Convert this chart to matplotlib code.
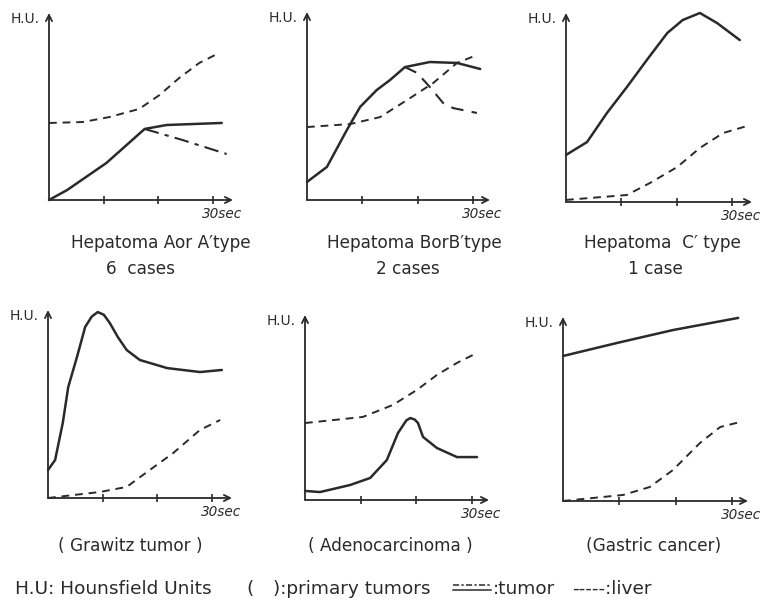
import matplotlib
matplotlib.use("Agg")
import matplotlib.pyplot as plt
from matplotlib.lines import Line2D

# ---------------- data (time in sec, H.U. in relative units 0-100) ----------------
# Panel 1: Hepatoma A or A' type
p1_liver_t = [0, 6.2, 11.1, 16.5, 20.2, 23.8, 27.5, 31.1]
p1_liver_v = [41.2, 41.7, 44.4, 48.7, 56.1, 65.2, 73.3, 78.6]
p1_tumor_t = [0, 3.3, 10.5, 17.5, 21.5, 31.6]
p1_tumor_v = [0, 5.3, 19.8, 38.0, 40.1, 41.2]
p1_tumor2_t = [17.5, 24.4, 32.5]
p1_tumor2_v = [38.0, 32.1, 24.6]

# Panel 2: Hepatoma B or B' type
p2_liver_t = [0, 7.8, 13.2, 18.1, 22.8, 27.1, 30.7]
p2_liver_v = [38.8, 40.4, 44.1, 53.2, 62.2, 72.9, 77.1]
p2_tumor_t = [0, 3.6, 7.2, 9.6, 12.6, 15.0, 17.7, 22.2, 27.1, 31.3]
p2_tumor_v = [9.6, 17.6, 37.2, 49.5, 58.5, 63.8, 70.7, 73.4, 72.9, 69.7]
p2_tumor2_t = [17.7, 19.9, 22.2, 24.6, 26.4, 30.7]
p2_tumor2_v = [70.7, 67.6, 60.1, 51.6, 48.9, 46.3]

# Panel 3: Hepatoma C' type
p3_tumor_t = [0, 3.8, 7.4, 11.0, 14.6, 18.3, 21.1, 24.2, 27.3, 31.4]
p3_tumor_v = [24.9, 31.7, 47.1, 60.8, 75.1, 89.4, 96.3, 100, 94.7, 85.7]
p3_liver_t = [0, 11.0, 15.2, 20.1, 24.2, 28.4, 32.7]
p3_liver_v = [1.1, 3.7, 10.1, 18.5, 28.6, 36.5, 40.2]

# Panel 4: Grawitz tumor
p4_tumor_t = [0, 1.3, 2.7, 3.7, 5.3, 6.8, 8.0, 9.1, 10.2, 11.3, 12.8, 14.4, 16.8, 21.8, 27.8, 31.8]
p4_tumor_v = [14.9, 20.2, 39.9, 59.0, 75.0, 91.0, 96.5, 98.9, 97.5, 93.1, 85.5, 78.7, 73.4, 69.1, 67.0, 68.1]
p4_liver_t = [0, 9.5, 14.4, 18.1, 22.9, 27.8, 31.5]
p4_liver_v = [0, 3.2, 5.9, 13.8, 23.9, 36.2, 41.5]

# Panel 5: Adenocarcinoma
p5_liver_t = [0, 10.4, 15.8, 20.1, 23.7, 27.3, 30.9]
p5_liver_v = [41.6, 44.9, 51.4, 59.5, 67.6, 74.1, 79.5]
p5_tumor_t = [0, 2.7, 8.1, 11.7, 14.7, 16.7, 18.2, 18.9, 19.7, 20.3, 21.2, 23.7, 27.3, 30.9]
p5_tumor_v = [4.9, 4.3, 8.1, 11.9, 21.6, 36.2, 43.0, 44.3, 43.5, 41.6, 34.1, 28.1, 23.2, 23.2]

# Panel 6: Gastric cancer
p6_tumor_t = [0, 9.6, 19.5, 31.1]
p6_tumor_v = [78.8, 85.9, 92.9, 99.5]
p6_liver_t = [0, 10.7, 15.4, 19.5, 24.3, 27.9, 31.4]
p6_liver_v = [0, 3.3, 7.6, 16.8, 31.5, 40.2, 42.9]

xticks = [10, 20, 30]
captions = [["Hepatoma Aor A\u2032type", "6  cases"],
            ["Hepatoma BorB\u2032type", "2 cases"],
            ["Hepatoma  C\u2032 type", "1 case"],
            ["( Grawitz tumor )"],
            ["( Adenocarcinoma )"],
            ["(Gastric cancer)"]]
legend_parts = ["H.U: Hounsfield Units", "(", "):primary tumors", ":tumor", "-----:liver"]

# ---------------- layout (pixels) ----------------
W, H = 760, 604
INK = "#2a2a2a"
# origin x, origin y, x-arrow end, y-arrow top, pixel of the 30 s tick
layout = [(49, 200, 233, 13, 213),
          (307, 200, 490, 12, 473),
          (566, 202, 752, 13, 732),
          (48, 498, 232, 310, 212),
          (305, 500, 489, 315, 472),
          (563, 501, 748, 317, 732)]
caption_pos = [[(161, 243), (140, 269)],
               [(414, 243), (408, 269)],
               [(662, 243), (655, 269)],
               [(130, 546)],
               [(390, 546)],
               [(654, 546)]]
legend_x = [15, 246, 273, 493, 572]
legend_y = 589

series = [
    [(p1_liver_t, p1_liver_v, "liver"), (p1_tumor_t, p1_tumor_v, "tumor"), (p1_tumor2_t, p1_tumor2_v, "dashdot")],
    [(p2_liver_t, p2_liver_v, "liver"), (p2_tumor_t, p2_tumor_v, "tumor"), (p2_tumor2_t, p2_tumor2_v, "longdash")],
    [(p3_liver_t, p3_liver_v, "liver"), (p3_tumor_t, p3_tumor_v, "tumor")],
    [(p4_liver_t, p4_liver_v, "liver"), (p4_tumor_t, p4_tumor_v, "tumor")],
    [(p5_liver_t, p5_liver_v, "liver"), (p5_tumor_t, p5_tumor_v, "tumor")],
    [(p6_liver_t, p6_liver_v, "liver"), (p6_tumor_t, p6_tumor_v, "tumor")],
]
styles = {"liver": dict(ls=(0, (4, 3)), lw=1.4),
          "tumor": dict(ls="-", lw=1.8),
          "dashdot": dict(ls=(0, (7, 3, 2, 3)), lw=1.5),
          "longdash": dict(ls=(0, (6, 4)), lw=1.5)}

plt.rcParams["font.family"] = ["DejaVu Sans"]
fig = plt.figure(figsize=(W / 100, H / 100), dpi=100)
fig.patch.set_facecolor("white")

for i, (ox, oy, xe, yt, t30) in enumerate(layout):
    ax = fig.add_axes([ox / W, 1 - oy / H, (xe - ox) / W, (oy - yt) / H])
    xmax = (xe - ox) / (t30 - ox) * 30
    ax.set_xlim(0, xmax)
    ax.set_ylim(0, 100)
    ax.patch.set_alpha(0)
    for s in ax.spines.values():
        s.set_visible(False)
    ax.set_xticks(xticks)
    ax.set_yticks([])
    ax.tick_params(axis="x", direction="inout", length=6, width=1.2,
                   color=INK, labelbottom=False)
    ap = dict(arrowstyle="->", lw=1.3, color=INK, shrinkA=0, shrinkB=0,
              mutation_scale=11)
    ax.annotate("", xy=(xmax, 0), xytext=(0, 0), arrowprops=ap,
                annotation_clip=False)
    ax.annotate("", xy=(0, 100), xytext=(0, 0), arrowprops=ap,
                annotation_clip=False)
    for t, v, kind in series[i]:
        ax.plot(t, v, color=INK, clip_on=False, solid_capstyle="round",
                solid_joinstyle="round", **styles[kind])
    ax.annotate("30sec", xy=(30, 0), xytext=(9, -14), textcoords="offset pixels",
                ha="center", va="center", fontsize=9.8, style="italic",
                color=INK, annotation_clip=False)
    ax.annotate("H.U.", xy=(0, 100), xytext=(-9, -6), textcoords="offset pixels",
                ha="right", va="center", fontsize=10, color=INK,
                annotation_clip=False)
    for txt, (px, py) in zip(captions[i], caption_pos[i]):
        fig.text(px / W, 1 - py / H, txt, ha="center", va="center",
                 fontsize=12.2, color=INK)

# footer legend
for txt, px in zip(legend_parts, legend_x):
    fig.text(px / W, 1 - legend_y / H, txt, ha="left", va="center",
             fontsize=13.3, color=INK)
# tumor symbol: dash-dot line over a solid line
fig.add_artist(Line2D([453 / W, 491 / W], [1 - 585 / H, 1 - 585 / H],
                      color=INK, lw=1.1, ls=(0, (4, 1.5, 1.5, 1.5))))
fig.add_artist(Line2D([453 / W, 491 / W], [1 - 590 / H, 1 - 590 / H],
                      color=INK, lw=1.1))

fig.savefig("out.png", dpi=100, facecolor="white")
